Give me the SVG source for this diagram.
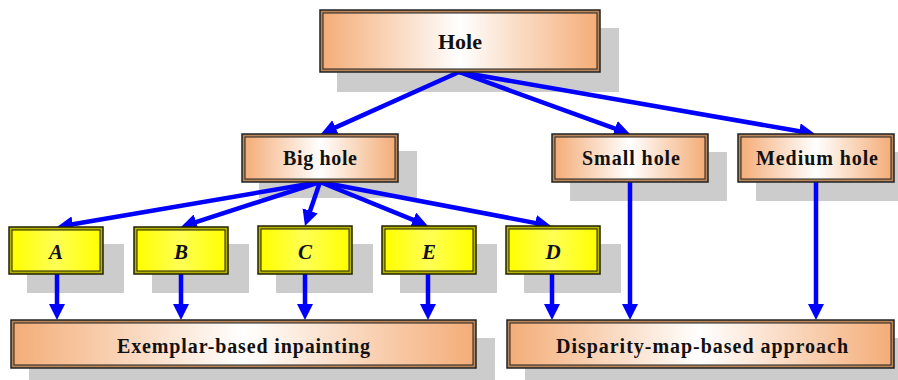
<svg xmlns="http://www.w3.org/2000/svg" width="898" height="380" viewBox="0 0 898 380">
  <defs>
    <linearGradient id="peach" x1="0" y1="0" x2="1" y2="0">
      <stop offset="0" stop-color="#F4AD78"/>
      <stop offset="0.5" stop-color="#FFFFFF"/>
      <stop offset="1" stop-color="#F4AD78"/>
    </linearGradient>
    <linearGradient id="lemon" x1="0" y1="0" x2="1" y2="0">
      <stop offset="0" stop-color="#FFFF00"/>
      <stop offset="0.5" stop-color="#FFFF55"/>
      <stop offset="1" stop-color="#FFFF00"/>
    </linearGradient>
    <marker id="head" markerUnits="userSpaceOnUse" markerWidth="16" markerHeight="16" refX="6" refY="8" orient="auto">
      <path d="M0,0 L16,8 L0,16 z" fill="#0000FF"/>
    </marker>
    <style>
      .shadow { fill: #CCCCCC; }
      .outer { fill: #B8865A; stroke: #222222; stroke-width: 1.5; }
      .inner { fill: url(#peach); stroke: #222222; stroke-width: 1; }
      .youter { fill: #B5B500; stroke: #222200; stroke-width: 1.5; }
      .yinner { fill: url(#lemon); stroke: #222200; stroke-width: 1; }
      .label { font-family: "Liberation Serif", "Times New Roman", serif; font-weight: bold; font-size: 20px; fill: #111111; text-anchor: middle; }
      .letter { font-style: italic; font-size: 21px; }
      .link { stroke: #0000FF; stroke-width: 4.5; fill: none; marker-end: url(#head); }
    </style>
  </defs>

  <rect width="898" height="380" fill="#FFFFFF"/>

  <!-- drop shadows -->
  <g id="shadows">
    <rect class="shadow" x="337" y="28" width="282" height="64"/>
    <rect class="shadow" x="259" y="151" width="158" height="47"/>
    <rect class="shadow" x="570" y="152" width="157" height="49"/>
    <rect class="shadow" x="756" y="152" width="157" height="49"/>
    <rect class="shadow" x="27" y="244" width="97" height="49"/>
    <rect class="shadow" x="152" y="244" width="97" height="49"/>
    <rect class="shadow" x="276" y="244" width="97" height="49"/>
    <rect class="shadow" x="400" y="244" width="97" height="49"/>
    <rect class="shadow" x="524" y="244" width="97" height="49"/>
    <rect class="shadow" x="29" y="338" width="466" height="42"/>
    <rect class="shadow" x="525" y="338" width="373" height="42"/>
  </g>

  <!-- connectors -->
  <g id="connectors">
    <line class="link" x1="459" y1="72" x2="330.1" y2="129.9"/>
    <line class="link" x1="459" y1="72" x2="620.6" y2="130.6"/>
    <line class="link" x1="459" y1="72" x2="805.2" y2="132.3"/>
    <line class="link" x1="320" y1="182" x2="66.9" y2="225.3"/>
    <line class="link" x1="320" y1="182" x2="190.5" y2="223.9"/>
    <line class="link" x1="320" y1="182" x2="308.2" y2="216.5"/>
    <line class="link" x1="320" y1="182" x2="418.7" y2="222.2"/>
    <line class="link" x1="320" y1="182" x2="541.2" y2="224.1"/>
    <line class="link" x1="57" y1="274" x2="57" y2="310"/>
    <line class="link" x1="181" y1="274" x2="181" y2="310"/>
    <line class="link" x1="305" y1="274" x2="305" y2="310"/>
    <line class="link" x1="428" y1="274" x2="428" y2="310"/>
    <line class="link" x1="552" y1="274" x2="552" y2="310"/>
    <line class="link" x1="630" y1="182" x2="630" y2="310"/>
    <line class="link" x1="816" y1="182" x2="816" y2="310"/>
  </g>

  <g id="hole">
    <rect class="outer" x="320" y="10" width="280" height="62"/>
    <rect class="inner" x="323" y="13" width="274" height="56"/>
    <text class="label" x="460" y="49" style="font-size:22px">Hole</text>
  </g>

  <g id="big-hole">
    <rect class="outer" x="242" y="134" width="156" height="48"/>
    <rect class="inner" x="245" y="137" width="150" height="42"/>
    <text class="label" x="320" y="165" textLength="74" lengthAdjust="spacing">Big hole</text>
  </g>

  <g id="small-hole">
    <rect class="outer" x="552" y="134" width="156" height="48"/>
    <rect class="inner" x="555" y="137" width="150" height="42"/>
    <text class="label" x="631" y="165" textLength="98" lengthAdjust="spacing">Small hole</text>
  </g>

  <g id="medium-hole">
    <rect class="outer" x="738" y="134" width="156" height="48"/>
    <rect class="inner" x="741" y="137" width="150" height="42"/>
    <text class="label" x="817" y="165" textLength="122" lengthAdjust="spacing">Medium hole</text>
  </g>

  <g id="node-a">
    <rect class="youter" x="9" y="227" width="94" height="47"/>
    <rect class="yinner" x="12" y="230" width="88" height="41"/>
    <text class="label letter" x="56" y="259">A</text>
  </g>

  <g id="node-b">
    <rect class="youter" x="134" y="227" width="94" height="47"/>
    <rect class="yinner" x="137" y="230" width="88" height="41"/>
    <text class="label letter" x="181" y="259">B</text>
  </g>

  <g id="node-c">
    <rect class="youter" x="258" y="226" width="94" height="48"/>
    <rect class="yinner" x="261" y="229" width="88" height="42"/>
    <text class="label letter" x="305" y="259">C</text>
  </g>

  <g id="node-e">
    <rect class="youter" x="382" y="226" width="94" height="48"/>
    <rect class="yinner" x="385" y="229" width="88" height="42"/>
    <text class="label letter" x="429" y="259">E</text>
  </g>

  <g id="node-d">
    <rect class="youter" x="506" y="226" width="94" height="48"/>
    <rect class="yinner" x="509" y="229" width="88" height="42"/>
    <text class="label letter" x="553" y="259">D</text>
  </g>

  <g id="exemplar">
    <rect class="outer" x="11" y="320" width="465" height="48"/>
    <rect class="inner" x="14" y="323" width="459" height="42"/>
    <text class="label" x="243.5" y="353" textLength="253" lengthAdjust="spacing">Exemplar-based inpainting</text>
  </g>

  <g id="disparity">
    <rect class="outer" x="507" y="320" width="387" height="48"/>
    <rect class="inner" x="510" y="323" width="381" height="42"/>
    <text class="label" x="702" y="353" textLength="292" lengthAdjust="spacing">Disparity-map-based approach</text>
  </g>
</svg>
